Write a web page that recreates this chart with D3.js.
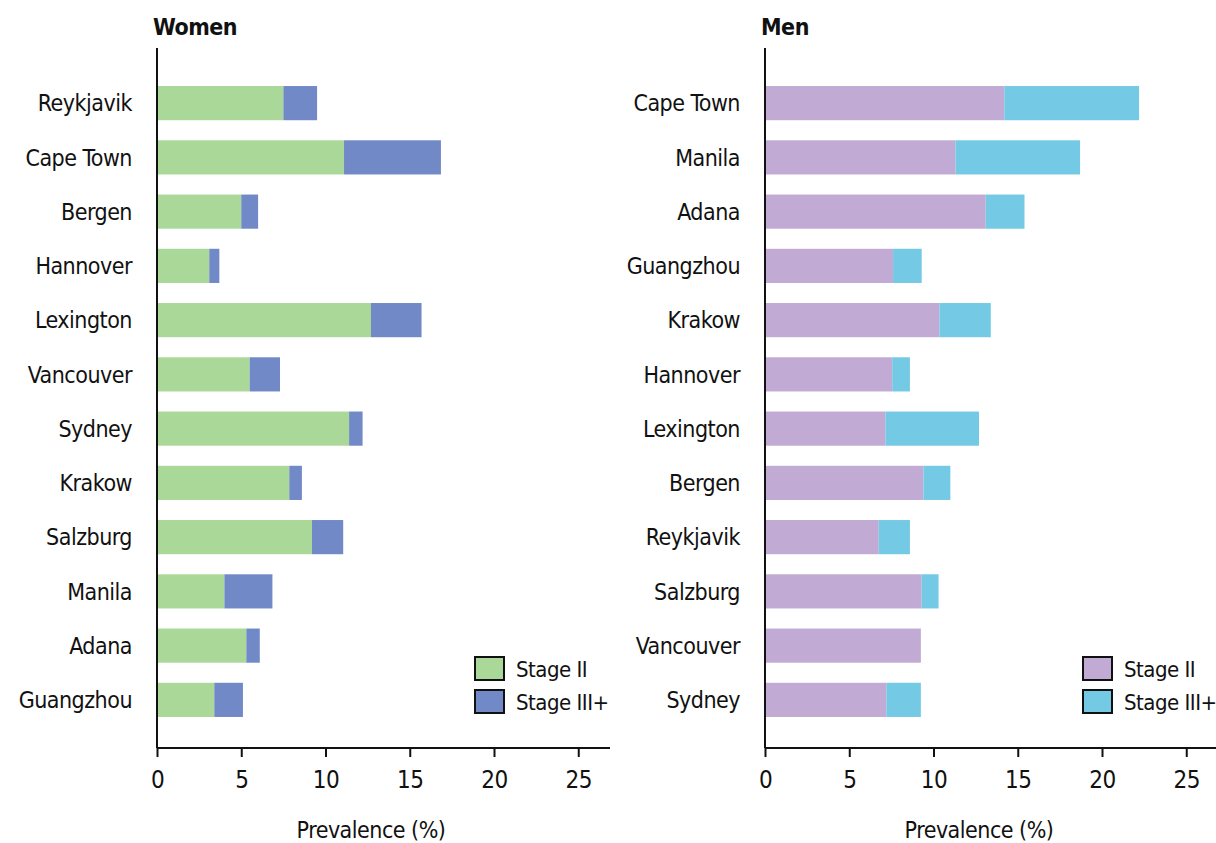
<!DOCTYPE html>
<html>
<head>
<meta charset="utf-8">
<script src="https://cdn.jsdelivr.net/npm/d3@7"></script>
<style>
  body { margin: 0; background: #fff; }
  svg text { font-family: "Liberation Sans Narrow", "DejaVu Sans Condensed", "Open Sans", sans-serif; fill: #111; letter-spacing: -0.5px; }
</style>
</head>
<body>
<svg id="chart" width="1216" height="843"></svg>
<script>
// Women panel
const womenCities = ['Reykjavik', 'Cape Town', 'Bergen', 'Hannover', 'Lexington', 'Vancouver',
  'Sydney', 'Krakow', 'Salzburg', 'Manila', 'Adana', 'Guangzhou']
const womenStage2 = [7.5, 11.1, 5.0, 3.1, 12.7, 5.5, 11.4, 7.85, 9.2, 4.0, 5.3, 3.4]
const womenStage3 = [2.0, 5.75, 1.0, 0.6, 3.0, 1.8, 0.8, 0.75, 1.85, 2.85, 0.8, 1.7]

// Men panel
const menCities = ['Cape Town', 'Manila', 'Adana', 'Guangzhou', 'Krakow', 'Hannover',
  'Lexington', 'Bergen', 'Reykjavik', 'Salzburg', 'Vancouver', 'Sydney']
const menStage2 = [14.2, 11.3, 13.1, 7.6, 10.35, 7.55, 7.15, 9.4, 6.75, 9.3, 9.25, 7.2]
const menStage3 = [8.0, 7.4, 2.3, 1.7, 3.05, 1.05, 5.55, 1.6, 1.85, 1.0, 0, 2.05]

const xTicks = [0, 5, 10, 15, 20, 25]
const legendLabels = ['Stage II', 'Stage III+']

const svg = d3.select('#chart')

function drawPanel(opts) {
  const {x0, xEnd, title, cities, s2, s3, colors} = opts
  const top = 48, axisY = 748
  const g = svg.append('g')

  const xScale = d3.scaleLinear().domain([0, 25]).range([x0, x0 + 25 * 16.85])
  const yScale = d3.scaleBand().domain(cities).range([76, 727]).paddingInner(0.37).paddingOuter(0.185)

  const data = cities.map((c, i) => ({city: c, s2: s2[i], s3: s3[i]}))

  // stage II bars
  g.selectAll('rect.s2').data(data).join('rect')
    .attr('class', 's2')
    .attr('x', xScale(0))
    .attr('y', d => yScale(d.city))
    .attr('width', d => xScale(d.s2) - xScale(0))
    .attr('height', yScale.bandwidth())
    .attr('fill', colors[0])

  // stage III+ bars stacked after stage II
  g.selectAll('rect.s3').data(data.filter(d => d.s3 > 0)).join('rect')
    .attr('class', 's3')
    .attr('x', d => xScale(d.s2))
    .attr('y', d => yScale(d.city))
    .attr('width', d => xScale(d.s2 + d.s3) - xScale(d.s2))
    .attr('height', yScale.bandwidth())
    .attr('fill', colors[1])

  // city labels
  g.selectAll('text.city').data(data).join('text')
    .attr('class', 'city')
    .attr('x', x0 - 25)
    .attr('y', d => yScale(d.city) + yScale.bandwidth() / 2)
    .attr('dy', '0.36em')
    .attr('text-anchor', 'end')
    .style('font-size', '23px')
    .text(d => d.city)

  // y axis line
  g.append('line')
    .attr('x1', x0).attr('x2', x0)
    .attr('y1', top).attr('y2', axisY)
    .attr('stroke', '#111').attr('stroke-width', 2)

  // x axis
  const xAxis = d3.axisBottom(xScale).tickValues(xTicks).tickSize(9).tickPadding(14)
  const gx = g.append('g').attr('transform', `translate(0,${axisY})`).call(xAxis)
  gx.select('.domain').remove()
  gx.append('line')
    .attr('x1', x0).attr('x2', xEnd)
    .attr('stroke', '#111').attr('stroke-width', 2)
  gx.selectAll('.tick line').attr('stroke', '#111').attr('stroke-width', 2)
  gx.selectAll('.tick text')
    .style('font-size', '24px')
    .style('font-family', '"Liberation Sans Narrow", "DejaVu Sans Condensed", sans-serif')
    .attr('fill', '#111')

  g.append('text')
    .attr('x', xScale(12.7))
    .attr('y', 838)
    .attr('text-anchor', 'middle')
    .style('font-size', '23px')
    .text('Prevalence (%)')

  // panel title
  g.append('text')
    .attr('x', x0 - 4)
    .attr('y', 35)
    .style('font-size', '23px')
    .style('font-weight', 'bold')
    .text(title)

  // legend
  const lg = g.append('g').attr('transform', `translate(${x0 + 318},657)`)
  legendLabels.forEach((lab, i) => {
    lg.append('rect')
      .attr('x', 0).attr('y', i * 33)
      .attr('width', 29).attr('height', 23)
      .attr('fill', colors[i])
      .attr('stroke', '#111').attr('stroke-width', 2)
    lg.append('text')
      .attr('x', 41).attr('y', i * 33 + 12)
      .attr('dy', '0.36em')
      .style('font-size', '22px')
      .text(lab)
  })
}

drawPanel({x0: 157, xEnd: 610, title: 'Women', cities: womenCities,
  s2: womenStage2, s3: womenStage3, colors: ['#a9d899', '#7289c7']})
drawPanel({x0: 765, xEnd: 1216, title: 'Men', cities: menCities,
  s2: menStage2, s3: menStage3, colors: ['#c1aad4', '#74c9e5']})
</script>
</body>
</html>
